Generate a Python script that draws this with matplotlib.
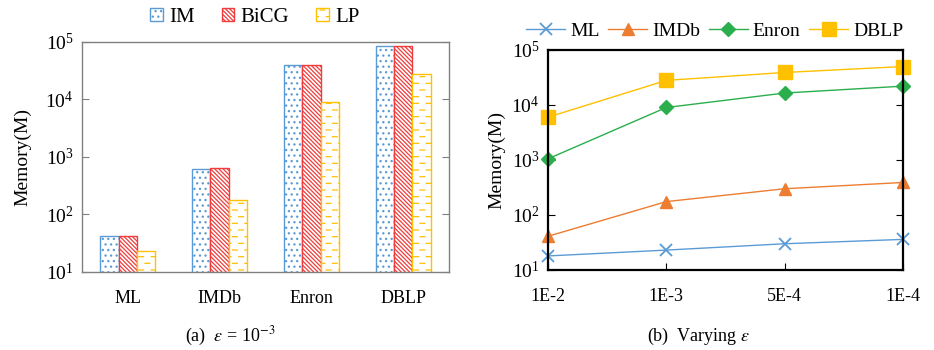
import numpy as np
import matplotlib
matplotlib.use('Agg')
import matplotlib.pyplot as plt
import matplotlib.hatch as mhatch
from matplotlib.path import Path

plt.rcParams['font.family'] = ['Liberation Serif', 'DejaVu Serif']
plt.rcParams['mathtext.fontset'] = 'stix'
plt.rcParams['hatch.linewidth'] = 0.9

# data
datasets = ['ML', 'IMDb', 'Enron', 'DBLP']
im_mem = [42, 620, 40000, 85000]
bicg_mem = [43, 650, 40000, 85000]
lp_mem = [23, 180, 9200, 28000]

eps_labels = ['1E-2', '1E-3', '5E-4', '1E-4']
ml_line = [18, 23, 30, 36]
imdb_line = [41, 175, 300, 390]
enron_line = [1050, 9000, 16500, 22000]
dblp_line = [6000, 28000, 39000, 50000]


# '-' hatch drawn as staggered short dashes instead of full lines
class DashHatch(mhatch.HatchPatternBase):
    def __init__(self, hatch, density):
        n = hatch.count('-') + hatch.count('+')
        self.rows = int(n * density * 2.5)
        self.cols = 8
        self.num_vertices = self.rows * self.cols * 2

    def set_vertices_and_codes(self, vertices, codes):
        k = 0
        for r in range(self.rows):
            y = (r + 0.5) / self.rows
            for c in range(self.cols):
                x0 = (c + 0.5 * (r % 2) + 0.1) / self.cols
                vertices[k] = (x0, y)
                vertices[k + 1] = (x0 + 0.38 / self.cols, y)
                codes[k] = Path.MOVETO
                codes[k + 1] = Path.LINETO
                k += 2


for i, h in enumerate(mhatch._hatch_types):
    if h is mhatch.HorizontalHatch:
        mhatch._hatch_types[i] = DashHatch

fig = plt.figure(figsize=(9.34, 3.5), dpi=100)

# ---- (a) bars
ax1 = fig.add_axes([0.0878, 0.2229, 0.3929, 0.6571])
x = np.arange(len(datasets))
w = 0.2
c_im, c_bicg, c_lp = '#5B9BD5', '#F03C3C', '#FFC000'
b1 = ax1.bar(x - w, im_mem, w, facecolor='white', edgecolor=c_im, hatch='...', lw=1.0, label='IM')
b2 = ax1.bar(x, bicg_mem, w, facecolor='white', edgecolor=c_bicg, hatch='\\' * 8, lw=1.0, label='BiCG')
b3 = ax1.bar(x + w, lp_mem, w, facecolor='white', edgecolor=c_lp, hatch='-', lw=1.0, label='LP')
ax1.set_yscale('log')
ax1.set_ylim(10, 1e5)
ax1.set_xlim(-0.5, 3.5)
ax1.set_xticks(x)
ax1.set_xticklabels(datasets, fontsize=13)
ax1.set_yticks([1e1, 1e2, 1e3, 1e4, 1e5])
ax1.minorticks_off()
ax1.tick_params(axis='y', which='both', direction='in', left=True, right=True, length=5,
                color='#808080', labelsize=14, pad=6)
ax1.tick_params(axis='x', length=0, pad=13)
for s in ax1.spines.values():
    s.set_color('#808080')
    s.set_linewidth(1.0)
ax1.set_ylabel('Memory(M)', fontsize=14, labelpad=10)
ax1.legend(handles=[b1, b2, b3], loc='lower center', bbox_to_anchor=(0.471, 1.03), ncol=3,
           frameon=False, fontsize=15, handlelength=0.6, handleheight=0.6,
           handletextpad=0.3, columnspacing=1.3, borderaxespad=0)

# ---- (b) lines
ax2 = fig.add_axes([0.5867, 0.2286, 0.3801, 0.6286])
xe = np.arange(len(eps_labels))
ax2.plot(xe, ml_line, color='#5B9BD5', marker='x', ms=8, mew=1.3, lw=1.0, label='ML', clip_on=False)
ax2.plot(xe, imdb_line, color='#ED7D31', marker='^', ms=9, lw=1.0, label='IMDb', clip_on=False)
ax2.plot(xe, enron_line, color='#2BAE4C', marker='D', ms=7, lw=1.0, label='Enron', clip_on=False)
ax2.plot(xe, dblp_line, color='#FFC000', marker='s', ms=10, lw=1.0, label='DBLP', clip_on=False)
ax2.set_yscale('log')
ax2.set_ylim(10, 1e5)
ax2.set_xlim(0, 3)
ax2.set_xticks(xe)
ax2.set_xticklabels(eps_labels, fontsize=13)
ax2.set_yticks([1e1, 1e2, 1e3, 1e4, 1e5])
ax2.minorticks_off()
ax2.tick_params(axis='y', which='both', direction='in', left=True, right=True, length=5,
                labelsize=14, pad=6)
ax2.tick_params(axis='x', direction='in', length=5, pad=13)
for s in ax2.spines.values():
    s.set_color('black')
    s.set_linewidth(1.6)
ax2.set_ylabel('Memory(M)', fontsize=14, labelpad=4)
ax2.legend(loc='lower right', bbox_to_anchor=(1.022, 1.01), ncol=4, frameon=False,
           fontsize=14, handlelength=2.0, handletextpad=0.25, columnspacing=0.45,
           borderaxespad=0)

fig.text(0.247, 0.025, r'(a)  $\varepsilon$ = 10$^{-3}$', ha='center', fontsize=13)
fig.text(0.748, 0.025, r'(b)  Varying $\varepsilon$', ha='center', fontsize=13)

fig.savefig('out.png', dpi=100)
